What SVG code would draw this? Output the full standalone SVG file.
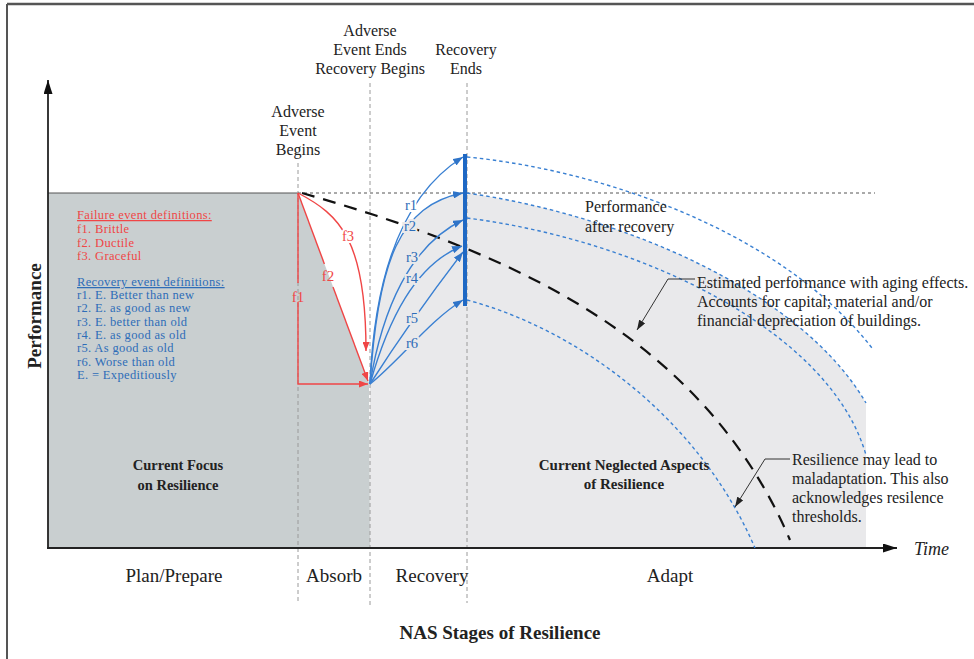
<svg xmlns="http://www.w3.org/2000/svg" width="974" height="659" viewBox="0 0 974 659">
<style>
text{font-family:"Liberation Serif","Times New Roman",serif;fill:#222}
.lab{font-size:16px;text-anchor:middle}
.stage{font-size:19px;text-anchor:middle}
.note{font-size:16px}
.bold{font-weight:bold}
.red{fill:#f04646}
.blue{fill:#2e6db8}
.leg{font-size:12.5px;letter-spacing:0.35px}
.vd{stroke:#9a9a9a;stroke-width:1;stroke-dasharray:4,3;fill:none}
.rl{stroke:#f04646;stroke-width:1.4;fill:none}
.bl{stroke:#3a80d2;stroke-width:1.4;fill:none}
.bd{stroke:#3a80d2;stroke-width:1.4;stroke-dasharray:3.5,3;fill:none}
.fl{font-size:15px;text-anchor:middle}
.rlab{font-size:14.5px;text-anchor:middle;paint-order:stroke;stroke-width:4}
</style>
<defs>
<marker id="mr" viewBox="0 0 10 10" refX="10" refY="5" markerWidth="9" markerHeight="7" markerUnits="userSpaceOnUse" orient="auto" preserveAspectRatio="none"><path d="M0,0 L10,5 L0,10 z" fill="#f04646"/></marker>
<marker id="mb" viewBox="0 0 10 10" refX="10" refY="5" markerWidth="10" markerHeight="7.5" markerUnits="userSpaceOnUse" orient="auto" preserveAspectRatio="none"><path d="M0,0 L10,5 L0,10 z" fill="#2f74c8"/></marker>
<marker id="mk" viewBox="0 0 10 10" refX="10" refY="5" markerWidth="10" markerHeight="7" markerUnits="userSpaceOnUse" orient="auto" preserveAspectRatio="none"><path d="M0,0 L10,5 L0,10 z" fill="#222"/></marker>
<marker id="ma" viewBox="0 0 10 10" refX="10" refY="5" markerWidth="14" markerHeight="9" markerUnits="userSpaceOnUse" orient="auto" preserveAspectRatio="none"><path d="M0,0 L10,5 L0,10 z" fill="#111"/></marker>
</defs>
<rect width="974" height="659" fill="#fff"/>
<g id="frame">
<line x1="7" y1="4" x2="974" y2="4" stroke="#555" stroke-width="2.5"/>
<line x1="7" y1="4" x2="7" y2="659" stroke="#555" stroke-width="2"/>
</g>
<g id="regions">
<path id="region-focus" d="M48,193 L298,193 L369,383 L370,548 L48,548 Z" fill="#c9cfd0"/>
<path id="region-neglected" d="M370,384 C378,260 400,205 463,193 L467,193 C620,215 800,290 866,403 L866,548 L370,548 Z" fill="#e9e9eb"/>
<line x1="48" y1="193" x2="298" y2="193" stroke="#555" stroke-width="1"/>
</g>
<g id="guides">
<line class="vd" x1="298" y1="163" x2="298" y2="603"/>
<line class="vd" x1="370" y1="83" x2="370" y2="605"/>
<line class="vd" x1="467" y1="83" x2="467" y2="603"/>
<line x1="298" y1="193" x2="875" y2="193" stroke="#555" stroke-width="1" stroke-dasharray="3,3"/>
</g>
<g id="axes">
<line x1="48" y1="548" x2="48" y2="80" stroke="#222" stroke-width="1.8" marker-end="url(#ma)"/>
<line x1="47" y1="548" x2="897" y2="548" stroke="#222" stroke-width="2" marker-end="url(#ma)"/>
</g>
<g id="connectors">
<path class="bd" d="M467,157 C600,170 780,230 872,348"/>
<path class="bd" d="M467,193 C620,215 800,290 866,403"/>
<path class="bd" d="M467,218 C640,240 830,330 866,455"/>
<path class="bd" d="M467,300 C580,330 700,420 755,548"/>
<path d="M302,193 C500,250 700,330 790,540" fill="none" stroke="#111" stroke-width="2.2" stroke-dasharray="13,9"/>
<path class="rl" d="M298,193 L298,283"/>
<path class="rl" d="M298,302 L298,384 L368,384" marker-end="url(#mr)"/>
<path class="rl" d="M298,193 L324.4,264"/>
<path class="rl" d="M333,287 L368,381" marker-end="url(#mr)"/>
<path class="rl" d="M298,193 C340,215 366,240 366,351" marker-end="url(#mr)"/>
<path class="bl" d="M370,384 C375,260 410,190 463,157" marker-end="url(#mb)"/>
<path class="bl" d="M370,384 C378,260 400,205 463,193" marker-end="url(#mb)"/>
<path class="bl" d="M370,384 C382,310 410,245 463,220" marker-end="url(#mb)"/>
<path class="bl" d="M370,384 C388,320 415,265 462,246" marker-end="url(#mb)"/>
<path class="bl" d="M370,384 C395,345 430,295 463,252" marker-end="url(#mb)"/>
<path class="bl" d="M370,384 C400,360 430,320 463,300" marker-end="url(#mb)"/>
<line x1="465" y1="154" x2="465" y2="306" stroke="#1e68c4" stroke-width="4"/>
<path d="M695,279 L668,279 L637,330" fill="none" stroke="#333" stroke-width="1" marker-end="url(#mk)"/>
<path d="M790,459 L765,459 L735,507" fill="none" stroke="#333" stroke-width="1" marker-end="url(#mk)"/>
</g>
<g id="path-labels">
<text class="fl red" x="298" y="302">f1</text>
<text class="fl red" x="328" y="281">f2</text>
<text class="fl red rlab" x="348" y="241" stroke="#fff">f3</text>
<text class="rlab blue" x="411" y="210" stroke="#fff">r1</text>
<text class="rlab blue" x="410" y="231" stroke="#e9e9eb">r2</text>
<text class="rlab blue" x="412" y="262" stroke="#e9e9eb">r3</text>
<text class="rlab blue" x="412" y="283" stroke="#e9e9eb">r4</text>
<text class="rlab blue" x="412" y="323" stroke="#e9e9eb">r5</text>
<text class="rlab blue" x="412" y="348" stroke="#e9e9eb">r6</text>
</g>
<g id="legend">
<text class="leg red" x="77" y="219" text-decoration="underline">Failure event definitions:</text>
<text class="leg red" x="77" y="233">f1. Brittle</text>
<text class="leg red" x="77" y="247">f2. Ductile</text>
<text class="leg red" x="77" y="260">f3. Graceful</text>
<text class="leg blue" x="77" y="286" text-decoration="underline">Recovery event definitions:</text>
<text class="leg blue" x="77" y="299">r1. E. Better than new</text>
<text class="leg blue" x="77" y="312">r2. E. as good as new</text>
<text class="leg blue" x="77" y="326">r3. E. better than old</text>
<text class="leg blue" x="77" y="339">r4. E. as good as old</text>
<text class="leg blue" x="77" y="352">r5. As good as old</text>
<text class="leg blue" x="77" y="366">r6. Worse than old</text>
<text class="leg blue" x="77" y="379">E. = Expeditiously</text>
</g>
<g id="event-labels">
<text class="lab" x="298" y="117">Adverse</text>
<text class="lab" x="298" y="136">Event</text>
<text class="lab" x="298" y="155">Begins</text>
<text class="lab" x="370" y="36">Adverse</text>
<text class="lab" x="370" y="55">Event Ends</text>
<text class="lab" x="370" y="74">Recovery Begins</text>
<text class="lab" x="466" y="55">Recovery</text>
<text class="lab" x="466" y="74">Ends</text>
</g>
<g id="annotations">
<text class="note" x="585" y="212">Performance</text>
<text class="note" x="585" y="232">after recovery</text>
<text class="note" x="697" y="288">Estimated performance with aging effects.</text>
<text class="note" x="697" y="307">Accounts for capital; material and/or</text>
<text class="note" x="697" y="326">financial depreciation of buildings.</text>
<text class="note" x="792" y="465">Resilience may lead to</text>
<text class="note" x="792" y="484">maladaptation. This also</text>
<text class="note" x="792" y="503">acknowledges resilence</text>
<text class="note" x="792" y="522">thresholds.</text>
<text class="bold" x="178" y="470" font-size="14.5" text-anchor="middle">Current Focus</text>
<text class="bold" x="178" y="490" font-size="14.5" text-anchor="middle">on Resilience</text>
<text class="bold" x="624" y="470" font-size="15" text-anchor="middle">Current Neglected Aspects</text>
<text class="bold" x="624" y="489" font-size="15" text-anchor="middle">of Resilience</text>
</g>
<g id="axis-labels">
<text class="bold" x="0" y="0" font-size="19" text-anchor="middle" transform="translate(41,316) rotate(-90)">Performance</text>
<text x="914" y="555" font-size="18" font-style="italic">Time</text>
</g>
<g id="stages">
<text class="stage" x="174" y="582">Plan/Prepare</text>
<text class="stage" x="334" y="582">Absorb</text>
<text class="stage" x="432" y="582">Recovery</text>
<text class="stage" x="670" y="582">Adapt</text>
<text class="stage bold" x="500" y="639">NAS Stages of Resilience</text>
</g>
</svg>
